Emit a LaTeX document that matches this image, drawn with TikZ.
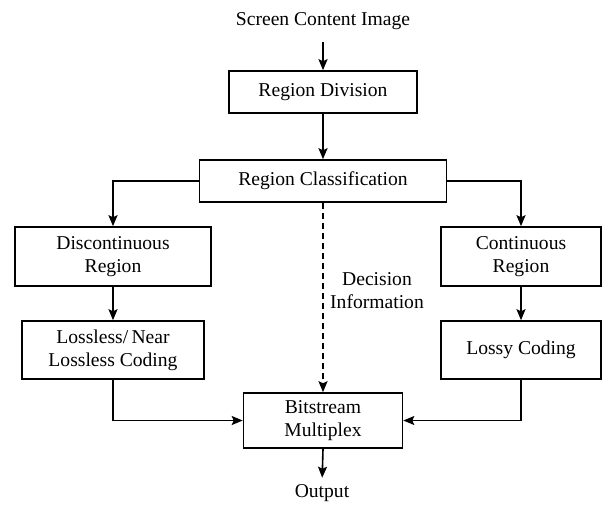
\documentclass[tikz,border=0pt]{standalone}
\usepackage{fontspec}
\setmainfont{Liberation Serif}
\usetikzlibrary{arrows.meta}
\begin{document}
\begin{tikzpicture}[x=1pt,y=-1pt,
  font=\fontsize{19.6}{23}\selectfont,
  blk/.style={draw=black, line width=1.6pt, rectangle, align=center, inner sep=0pt},
  lbl/.style={inner sep=0pt, align=center},
  arr/.style={line width=1.6pt, -{Stealth[length=11pt,width=9pt,inset=2pt]}},
  dsh/.style={line width=1.6pt, dash pattern=on 6pt off 4pt, -{Stealth[length=11pt,width=9pt,inset=2pt]}}]
  \useasboundingbox (0,0) rectangle (609,504);
  \fill[white] (0,0) rectangle (609,504);

  % nodes
  \node[lbl] (src) at (323,21) {Screen Content Image};
  \node[blk, minimum width=188pt, minimum height=42pt] (div) at (323,92) {Region Division};
  \node[blk, minimum width=247pt, minimum height=42pt] (cls) at (323,181) {Region Classification};
  \node[blk, minimum width=196pt, minimum height=59pt] (disc) at (113,256.5) {Discontinuous\\Region};
  \node[blk, minimum width=160pt, minimum height=59pt] (cont) at (521,256.5) {Continuous\\Region};
  \node[blk, minimum width=182pt, minimum height=58pt] (lossless) at (113,350) {Lossless/\,Near\\Lossless Coding};
  \node[blk, minimum width=160pt, minimum height=58pt] (lossy) at (521,350) {Lossy Coding};
  \node[blk, minimum width=159pt, minimum height=55pt] (bit) at (323,420.5) {Bitstream\\Multiplex};
  \node[lbl] (out) at (322,493.5) {Output};
  \node[lbl] (info) at (377,291) {Decision\\Information};

  % connectors
  \draw[arr, shorten <=12pt] (src.south) -- (div.north);
  \draw[arr] (div.south) -- (cls.north);
  \draw[arr] (cls.west) -| (disc.north);
  \draw[arr] (cls.east) -| (cont.north);
  \draw[arr] (disc.south) -- (lossless.north);
  \draw[arr] (cont.south) -- (lossy.north);
  \draw[arr] (lossless.south) |- (bit.west);
  \draw[arr] (lossy.south) |- (bit.east);
  \draw[dsh] (cls.south) -- (bit.north);
  \draw[arr, shorten >=7pt] (bit.south) -- (out.north);
\end{tikzpicture}
\end{document}
